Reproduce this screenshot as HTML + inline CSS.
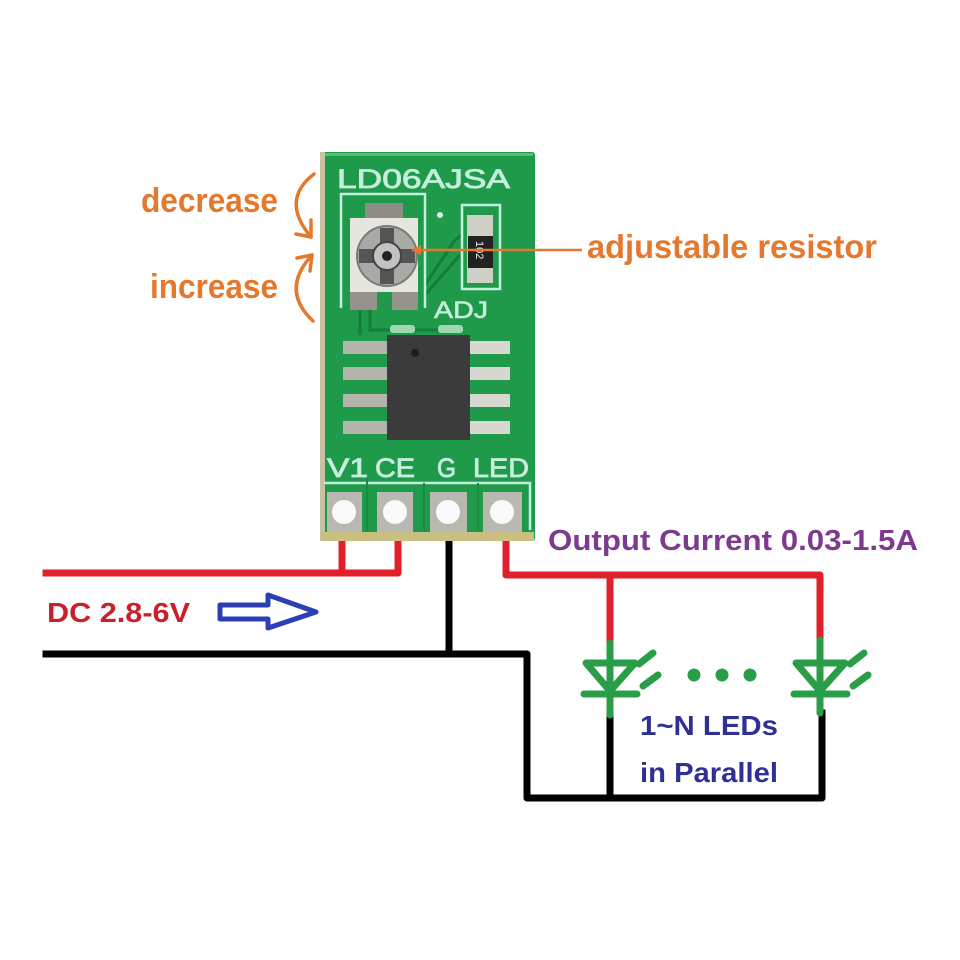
<!DOCTYPE html>
<html><head><meta charset="utf-8">
<style>
html,body{margin:0;padding:0;background:#fff;}
svg{display:block;}
text{font-family:"Liberation Sans",sans-serif;}
</style></head>
<body>
<svg width="960" height="960" viewBox="0 0 960 960" xmlns="http://www.w3.org/2000/svg">
<rect width="960" height="960" fill="#fff"/>

<!-- wires -->
<g fill="none" stroke-linecap="square" stroke-linejoin="round">
  <path d="M46 573 H398 V540" stroke="#e0202a" stroke-width="7"/>
  <path d="M342 540 V573" stroke="#e0202a" stroke-width="7"/>
  <path d="M506 540 V575 H820 V640" stroke="#e0202a" stroke-width="7"/>
  <path d="M610 575 V643" stroke="#e0202a" stroke-width="7"/>
  <path d="M46 654 H527 V798 H822 V713" stroke="#000" stroke-width="7"/>
  <path d="M449 540 V654" stroke="#000" stroke-width="7"/>
  <path d="M610 715 V798" stroke="#000" stroke-width="7"/>
</g>

<!-- LEDs -->
<g stroke="#2a9d48" stroke-width="7" fill="none" stroke-linecap="round" stroke-linejoin="round">
  <path d="M610 643 V715"/>
  <path d="M586 663 H635 L610 691 Z"/>
  <path d="M584 694 H637"/>
  <path d="M639 664 L653 653"/>
  <path d="M643 686 L658 675"/>
  <path d="M820 640 V713"/>
  <path d="M796 663 H845 L820 691 Z"/>
  <path d="M794 694 H847"/>
  <path d="M850 664 L864 653"/>
  <path d="M853 686 L868 675"/>
</g>
<g fill="#2a9d48">
  <circle cx="694" cy="675" r="6.5"/>
  <circle cx="722" cy="675" r="6.5"/>
  <circle cx="750" cy="675" r="6.5"/>
</g>

<!-- texts -->
<text x="141" y="212" font-size="34" font-weight="bold" fill="#e5782d" textLength="137" lengthAdjust="spacingAndGlyphs">decrease</text>
<text x="150" y="298" font-size="34" font-weight="bold" fill="#e5782d" textLength="128" lengthAdjust="spacingAndGlyphs">increase</text>
<text x="587" y="258" font-size="33" font-weight="bold" fill="#e5782d" textLength="290" lengthAdjust="spacingAndGlyphs">adjustable resistor</text>
<text x="548" y="550" font-size="29" font-weight="bold" fill="#7d3a8e" textLength="370" lengthAdjust="spacingAndGlyphs">Output Current 0.03-1.5A</text>
<text x="47" y="622" font-size="28" font-weight="bold" fill="#c9202b" textLength="143" lengthAdjust="spacingAndGlyphs">DC 2.8-6V</text>
<text x="640" y="735" font-size="28" font-weight="bold" fill="#2e3192" textLength="138" lengthAdjust="spacingAndGlyphs">1~N LEDs</text>
<text x="640" y="782" font-size="28" font-weight="bold" fill="#2e3192" textLength="138" lengthAdjust="spacingAndGlyphs">in Parallel</text>

<!-- blue arrow -->
<path d="M220 605 H268 V595 L316 612 L268 628 V619 H220 Z" fill="none" stroke="#2b3fb5" stroke-width="5" stroke-linejoin="round"/>

<!-- curved orange arrows -->
<g fill="none" stroke="#e5782d" stroke-width="3.5" stroke-linecap="round" stroke-linejoin="round">
  <path d="M314 174 Q280 200 311 237"/>
  <path d="M296 234 L311 237 L311 220"/>
  <path d="M313 321 Q280 290 312 255"/>
  <path d="M297 258 L312 255 L310 271"/>
</g>

<!-- PCB -->
<rect x="320" y="152" width="215" height="389" rx="3" fill="#1f9a4a"/>
<rect x="320" y="152" width="5" height="389" fill="#c9c2a0"/>
<rect x="322" y="532" width="212" height="9" fill="#c8bf80"/>
<rect x="325" y="153" width="208" height="3" fill="#5bbd7a"/>

<!-- traces -->
<g fill="none" stroke="#167c3a" stroke-width="3">
  <path d="M425 285 L455 240 L462 235"/>
  <path d="M425 295 L460 255"/>
  <path d="M360 310 V335"/>
  <path d="M370 310 V330 H440"/>
</g>

<!-- silkscreen -->
<text x="337" y="188" font-size="27" fill="#c6eede" stroke="#c6eede" stroke-width="0.8" textLength="173" lengthAdjust="spacingAndGlyphs">LD06AJSA</text>
<path d="M341 308 V194 H425 V308" fill="none" stroke="#c6eede" stroke-width="2.5"/>
<rect x="462" y="205" width="38" height="84" fill="none" stroke="#c6eede" stroke-width="2.5"/>
<circle cx="440" cy="215" r="3" fill="#d8f4e8"/>
<text x="434" y="318" font-size="24" fill="#c6eede" stroke="#c6eede" stroke-width="0.6" textLength="54" lengthAdjust="spacingAndGlyphs">ADJ</text>

<!-- potentiometer -->
<rect x="365" y="203" width="38" height="16" fill="#8e8e86"/>
<rect x="350" y="218" width="68" height="74" fill="#e6e6de"/>
<rect x="350" y="292" width="27" height="18" fill="#94948c"/>
<rect x="392" y="292" width="26" height="18" fill="#94948c"/>
<circle cx="387" cy="256" r="30" fill="#a9a9a6" stroke="#7a7a78" stroke-width="2"/>
<rect x="380" y="228" width="14" height="56" fill="#555"/>
<rect x="359" y="249" width="56" height="14" fill="#555"/>
<circle cx="387" cy="256" r="14" fill="#c2c2c0" stroke="#444" stroke-width="2"/>
<circle cx="387" cy="256" r="5" fill="#222"/>

<!-- resistor -->
<rect x="467" y="215" width="26" height="68" fill="#cfcfc8"/>
<rect x="468" y="236" width="25" height="32" fill="#222"/>
<text x="0" y="0" font-size="11" fill="#eee" transform="translate(476 241) rotate(90)">102</text>

<!-- orange pointer line -->
<path d="M413 250 H582" stroke="#e5782d" stroke-width="2.5"/>
<path d="M411 250 L421 245 L421 255 Z" fill="#e5782d"/>

<!-- IC -->
<g fill="#b4b4ac">
  <rect x="343" y="341" width="45" height="13"/>
  <rect x="343" y="367" width="45" height="13"/>
  <rect x="343" y="394" width="45" height="13"/>
  <rect x="343" y="421" width="45" height="13"/>
</g>
<g fill="#d8d8d2">
  <rect x="468" y="341" width="42" height="13"/>
  <rect x="468" y="367" width="42" height="13"/>
  <rect x="468" y="394" width="42" height="13"/>
  <rect x="468" y="421" width="42" height="13"/>
</g>
<rect x="387" y="335" width="83" height="105" fill="#3b3b3b"/>
<circle cx="415" cy="353" r="4" fill="#1e1e1e"/>
<rect x="390" y="325" width="25" height="8" rx="3" fill="#9fd6b5"/>
<rect x="438" y="325" width="25" height="8" rx="3" fill="#9fd6b5"/>

<!-- pin labels -->
<g fill="#c6eede" stroke="#c6eede" stroke-width="0.8" font-size="27">
  <text x="327" y="477" textLength="41" lengthAdjust="spacingAndGlyphs">V1</text>
  <text x="375" y="477" textLength="40" lengthAdjust="spacingAndGlyphs">CE</text>
  <text x="437" y="477" textLength="19" lengthAdjust="spacingAndGlyphs">G</text>
  <text x="473" y="477" textLength="56" lengthAdjust="spacingAndGlyphs">LED</text>
</g>
<path d="M324 483 H530 V530" fill="none" stroke="#c6eede" stroke-width="2.5"/>
<path d="M367 478 V530 M424 483 V530 M478 483 V530" fill="none" stroke="#1a8a42" stroke-width="2"/>

<!-- pads -->
<g fill="#b9b9b2">
  <rect x="327" y="492" width="35" height="40"/>
  <rect x="377" y="492" width="36" height="40"/>
  <rect x="430" y="492" width="37" height="40"/>
  <rect x="483" y="492" width="39" height="40"/>
</g>
<g fill="#fafafa">
  <circle cx="344" cy="512" r="12"/>
  <circle cx="395" cy="512" r="12"/>
  <circle cx="448" cy="512" r="12"/>
  <circle cx="502" cy="512" r="12"/>
</g>
</svg>
</body></html>
